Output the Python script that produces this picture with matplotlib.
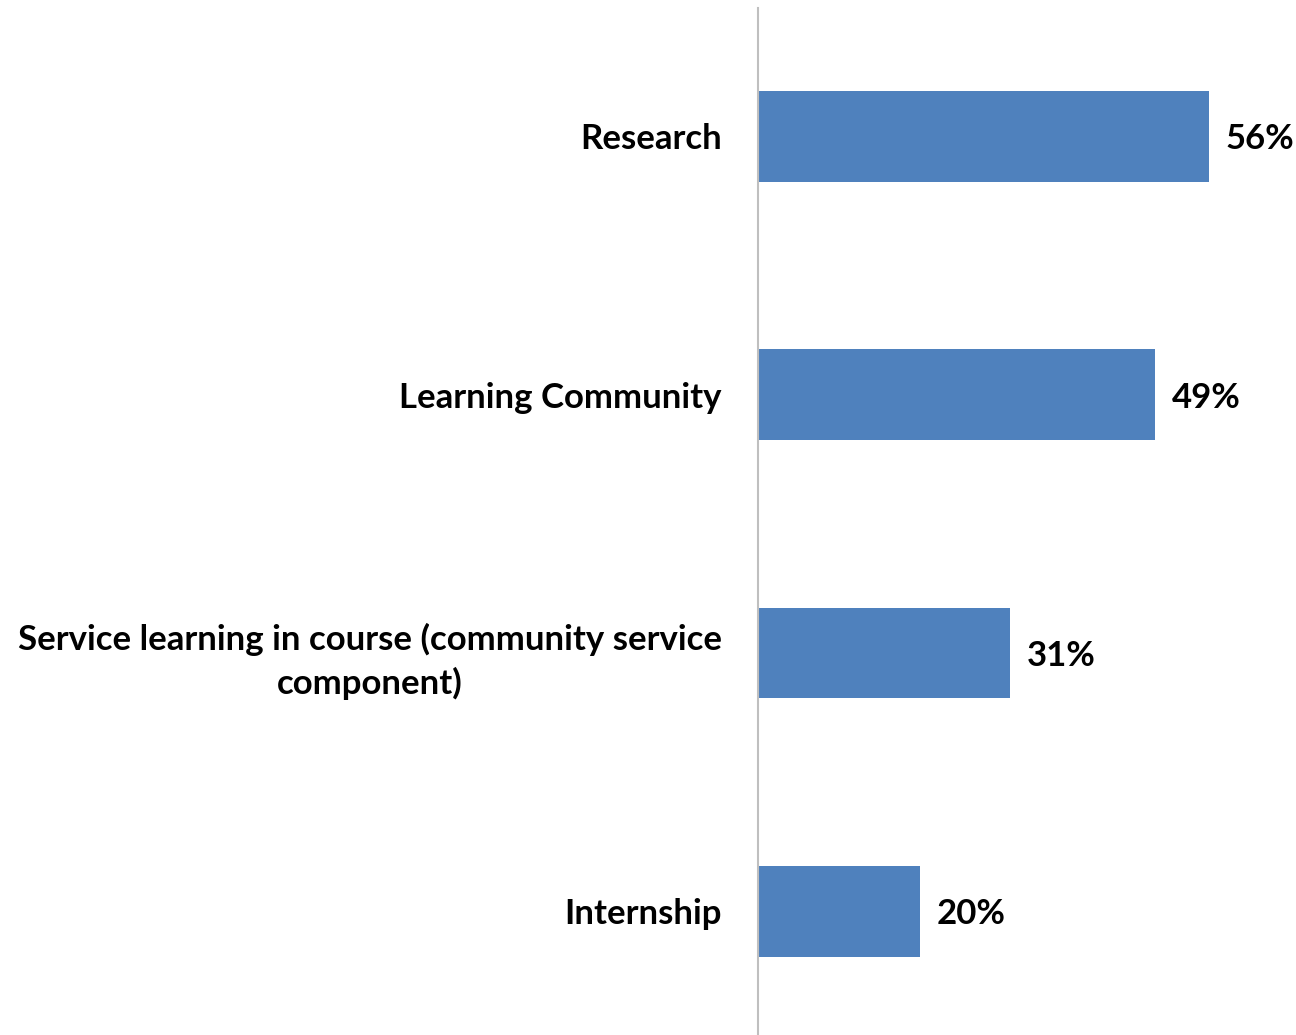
import matplotlib.pyplot as plt

categories = ["Research", "Learning Community",
              "Service learning in course (community service\ncomponent)",
              "Internship"]
values = [0.56, 0.493, 0.313, 0.201]
value_labels = ["56%", "49%", "31%", "20%"]

plt.rcParams['font.family'] = ['Lato', 'DejaVu Sans']

fig = plt.figure(figsize=(12.96, 10.35), dpi=100)
W, H = 1296, 1035
ax = fig.add_axes([758 / W, 0, 483 / W, 1027 / H])

y = range(len(categories))
bars = ax.barh(y, values, height=0.352, color='#4F81BD')
ax.set_xlim(0, 0.6)
ax.set_ylim(3.479, -0.497)

ax.set_yticks(list(y))
ax.set_yticklabels(categories, fontsize=25, fontweight='bold', linespacing=1.42)
ax.tick_params(axis='y', length=0, pad=26)
ax.set_xticks([])
for lbl in ax.get_yticklabels():
    lbl.set_ha('right')
    lbl.set_multialignment('center')

for b, t in zip(bars, value_labels):
    ax.text(b.get_width() + 0.021, b.get_y() + b.get_height() / 2 + 0.012, t,
            va='center', ha='left', fontsize=25, fontweight='bold', clip_on=False)

for s in ['top', 'right', 'bottom']:
    ax.spines[s].set_visible(False)
ax.spines['left'].set_color('#BFBFBF')
ax.spines['left'].set_linewidth(1.5)

fig.savefig('out.png', dpi=100)
